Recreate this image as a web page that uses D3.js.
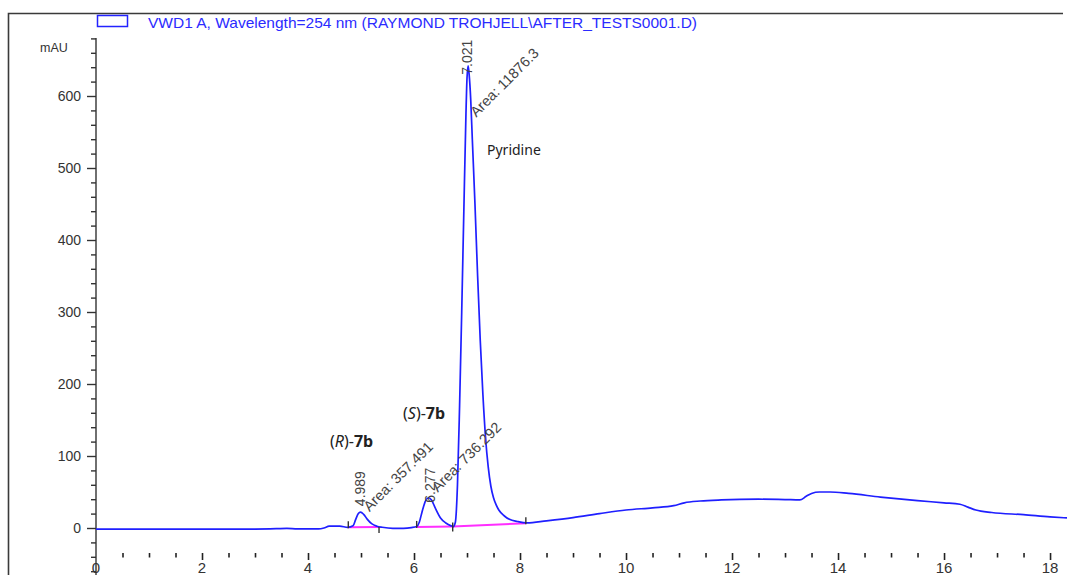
<!DOCTYPE html>
<html>
<head>
<meta charset="utf-8">
<script src="https://cdn.jsdelivr.net/npm/d3@7"></script>
<style>
  html, body { margin: 0; padding: 0; background: #fff; }
  svg { display: block; }
</style>
</head>
<body>
<svg id="chart" width="1067" height="575"></svg>
<script>
// Retention time (min) and detector signal (mAU) of the VWD1 A trace
const times = [
  0, 0.5, 1, 2, 3, 3.4, 3.6, 3.8, 4.2, 4.3, 4.4, 4.6, 4.75,
  4.85, 4.9, 4.95, 4.989, 5.05, 5.12, 5.2, 5.3, 5.4, 5.6, 5.8, 5.95,
  6.05, 6.1, 6.15, 6.22, 6.277, 6.33, 6.4, 6.5, 6.6, 6.7, 6.74,
  6.78, 6.82, 6.86, 6.9, 6.94, 6.98, 7.0, 7.021, 7.04, 7.07, 7.1, 7.15, 7.2, 7.25,
  7.3, 7.35, 7.4, 7.45, 7.5, 7.55, 7.6, 7.7, 7.8, 7.95, 8.13,
  8.5, 9.0, 9.5, 10.0, 10.5, 10.9, 11.1, 11.4, 11.8, 12.5, 13.0, 13.28,
  13.4, 13.5, 13.65, 13.85, 14.2, 14.8, 15.5, 16.0, 16.3, 16.45, 16.6, 16.9,
  17.5, 18.0, 18.32
];
const signal = [
  -1.5, -1.5, -1.5, -1.5, -1.5, -1, -0.5, -1.2, -1.2, 0, 2.5, 2.5, 1,
  3, 12, 20, 22, 19, 12, 6, 2.5, 1, -0.5, -0.5, 0.5,
  2, 8, 22, 38, 42, 39, 28, 14, 7, 3, 2,
  8, 60, 170, 300, 440, 575, 625, 642, 630, 595, 540, 450, 350, 260,
  185, 125, 85, 58, 42, 32, 25, 17, 12, 9, 7,
  10, 14.5, 20, 25, 28, 31, 35, 37.5, 39, 40, 39.5, 39,
  44, 48, 50, 50, 48, 43, 38, 35, 33, 29, 25, 21.5,
  18.5, 15.5, 14
];

// Integrated peaks
const peakTimes = [4.989, 6.277, 7.021];
const peakHeights = [22, 42, 642];
const peakAreas = ["357.491", "736.292", "11876.3"];

// Integration baselines (start/end time and level)
const baseStartT = [4.76, 6.05, 6.73];
const baseEndT = [5.34, 6.73, 8.11];
const baseStartV = [1, 1.5, 2];
const baseEndV = [1.5, 2, 6.5];

// Axis ticks
const yMajorTicks = [0, 100, 200, 300, 400, 500, 600];
const xMajorTicks = [0, 2, 4, 6, 8, 10, 12, 14, 16, 18];

const legendText = "VWD1 A, Wavelength=254 nm (RAYMOND TROHJELL\\AFTER_TESTS0001.D)";

const svg = d3.select("#chart");
const x = d3.scaleLinear().domain([0, 18.32]).range([96, 1067]);
const y = d3.scaleLinear().domain([-65, 680]).range([574.8, 38.4]);

// Outer frame (left and top edges)
svg.append("path")
  .attr("d", "M8.5,575 V13.5 H1063")
  .attr("fill", "none").attr("stroke", "#3a3a3a").attr("stroke-width", 1.6);

// Legend
svg.append("rect").attr("x", 97.5).attr("y", 15.5).attr("width", 30).attr("height", 11)
  .attr("fill", "none").attr("stroke", "#2323ff").attr("stroke-width", 1.5);
svg.append("text").attr("x", 148).attr("y", 27.5)
  .attr("font-family", "Liberation Sans, Arial, sans-serif").attr("font-size", 15)
  .attr("textLength", 549).attr("lengthAdjust", "spacingAndGlyphs")
  .attr("fill", "#2b2bff").text(legendText);

// Y axis: minor ticks every 20, labelled major ticks every 100
const yMinor = d3.range(-60, 681, 20).filter(v => v % 100 !== 0);
svg.append("g").attr("transform", "translate(96,0)")
  .call(d3.axisLeft(y).tickValues(yMinor).tickSize(5).tickFormat(""))
  .call(g => g.select(".domain").remove())
  .call(g => g.selectAll("line").attr("stroke", "#333").attr("stroke-width", 1.4));
const yAxis = svg.append("g").attr("transform", "translate(96,0)")
  .call(d3.axisLeft(y).tickValues(yMajorTicks).tickSize(9).tickPadding(6))
  .call(g => g.select(".domain").remove());
yAxis.selectAll("line").attr("stroke", "#333").attr("stroke-width", 1.4);
yAxis.selectAll("text").attr("font-family", "Liberation Sans, Arial, sans-serif")
  .attr("font-size", 14).attr("fill", "#333");
svg.append("line").attr("x1", 96).attr("x2", 96).attr("y1", 38).attr("y2", 575)
  .attr("stroke", "#333").attr("stroke-width", 1.4);
svg.append("text").attr("x", 40).attr("y", 52)
  .attr("font-family", "Liberation Sans, Arial, sans-serif").attr("font-size", 12.5)
  .attr("fill", "#333").text("mAU");

// X axis: tick marks only, no axis line
const xMinor = d3.range(0.5, 18.1, 0.5).filter(v => v % 2 !== 0);
const xTickY = 553;
svg.append("g").attr("transform", `translate(0,${xTickY})`)
  .call(d3.axisBottom(x).tickValues(xMinor).tickSize(4.5).tickFormat(""))
  .call(g => g.select(".domain").remove())
  .call(g => g.selectAll("line").attr("stroke", "#222").attr("stroke-width", 1.6));
const xAxis = svg.append("g").attr("transform", `translate(0,${xTickY})`)
  .call(d3.axisBottom(x).tickValues(xMajorTicks.filter(v => v > 0)).tickSize(7).tickFormat(""))
  .call(g => g.select(".domain").remove());
xAxis.selectAll("line").attr("stroke", "#222").attr("stroke-width", 1.6);
svg.append("g").selectAll("text").data(xMajorTicks).join("text")
  .attr("x", d => x(d)).attr("y", 573)
  .attr("text-anchor", "middle")
  .attr("font-family", "Liberation Sans, Arial, sans-serif").attr("font-size", 15)
  .attr("fill", "#333").text(d => d);

// Integration baselines
const baseSegs = baseStartT.map((t, i) => ({ t0: t, t1: baseEndT[i], v0: baseStartV[i], v1: baseEndV[i] }));
svg.append("g").selectAll("line").data(baseSegs).join("line")
  .attr("x1", d => x(d.t0)).attr("y1", d => y(d.v0))
  .attr("x2", d => x(d.t1)).attr("y2", d => y(d.v1))
  .attr("stroke", "#ff2eff").attr("stroke-width", 2);

// Chromatogram trace
const pts = times.map((t, i) => [t, signal[i]]);
svg.append("path").datum(pts)
  .attr("fill", "none").attr("stroke", "#1f1fff").attr("stroke-width", 1.7)
  .attr("d", d3.line().x(d => x(d[0])).y(d => y(d[1])).curve(d3.curveMonotoneX));

// Peak start/end marks
const marks = [];
baseSegs.forEach((s, i) => {
  marks.push({ t: s.t0, v: s.v0, kind: i === 2 ? "mid" : "start" });
  if (i !== 1) marks.push({ t: s.t1, v: s.v1, kind: i === 0 ? "end" : "start" });
});
svg.append("g").selectAll("line").data(marks).join("line")
  .attr("x1", d => x(d.t)).attr("x2", d => x(d.t))
  .attr("y1", d => y(d.v) + (d.kind === "start" ? -6 : d.kind === "mid" ? -4 : 0))
  .attr("y2", d => y(d.v) + (d.kind === "start" ? 1 : d.kind === "mid" ? 5 : 6))
  .attr("stroke", "#333").attr("stroke-width", 1.4);

// Retention time and area labels
const rtOffset = [[4.5, 6], [6, -5], [4, -9]];
const areaOffset = [[9, 0], [9, -5], [8, 52]];
const labelFont = "Liberation Sans, Arial, sans-serif";
peakTimes.forEach((t, i) => {
  const px = x(t), py = y(peakHeights[i]);
  svg.append("text")
    .attr("transform", `translate(${px + rtOffset[i][0]},${py - rtOffset[i][1]}) rotate(-90)`)
    .attr("font-family", labelFont).attr("font-size", 14).attr("fill", "#444")
    .text(t.toFixed(3));
  svg.append("text")
    .attr("transform", `translate(${px + areaOffset[i][0]},${py + areaOffset[i][1]}) rotate(-45)`)
    .attr("font-family", labelFont).attr("font-size", 14.5).attr("fill", "#444")
    .text("Area: " + peakAreas[i]);
});

// Compound annotations
const noteFont = "Noto Sans, Open Sans, sans-serif";
svg.append("text").attr("x", 487).attr("y", 155)
  .attr("font-family", noteFont).attr("font-size", 14).attr("fill", "#222").text("Pyridine");
function enantiomer(label, tx, ty) {
  const t = svg.append("text").attr("x", tx).attr("y", ty)
    .attr("font-family", noteFont).attr("font-size", 16).attr("fill", "#222");
  t.append("tspan").text("(");
  t.append("tspan").attr("font-style", "italic").text(label);
  t.append("tspan").text(")-");
  t.append("tspan").attr("font-weight", "bold").text("7b");
}
enantiomer("R", 330, 447);
enantiomer("S", 403, 419);
</script>
</body>
</html>
